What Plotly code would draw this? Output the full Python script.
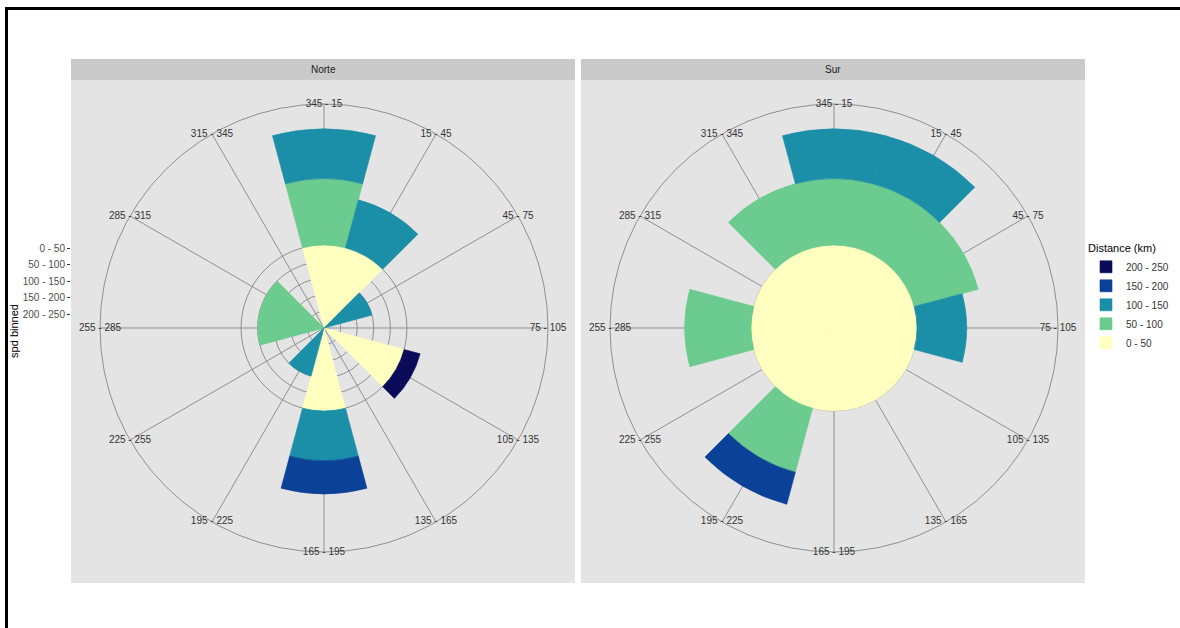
import plotly.graph_objects as go

# ---------------- data ----------------
directions = ["345 - 15", "15 - 45", "45 - 75", "75 - 105", "105 - 135", "135 - 165",
              "165 - 195", "195 - 225", "225 - 255", "255 - 285", "285 - 315", "315 - 345"]
distance_bins = ["0 - 50", "50 - 100", "100 - 150", "150 - 200", "200 - 250"]
facets = ["Norte", "Sur"]

norte_0_50 = [5, 5, 0, 0, 5, 0, 5, 0, 0, 0, 0, 0]
norte_50_100 = [4, 0, 0, 0, 0, 0, 0, 0, 0, 4, 4, 0]
norte_100_150 = [3, 3, 3, 0, 0, 0, 3, 3, 0, 0, 0, 0]
norte_150_200 = [0, 0, 0, 0, 0, 0, 2, 0, 0, 0, 0, 0]
norte_200_250 = [0, 0, 0, 0, 1, 0, 0, 0, 0, 0, 0, 0]

sur_0_50 = [5, 5, 5, 5, 5, 5, 5, 5, 5, 5, 5, 5]
sur_50_100 = [4, 4, 4, 0, 0, 0, 0, 4, 0, 4, 0, 4]
sur_100_150 = [3, 3, 0, 3, 0, 0, 0, 0, 0, 0, 0, 0]
sur_150_200 = [0, 0, 0, 0, 0, 0, 0, 2, 0, 0, 0, 0]
sur_200_250 = [0, 0, 0, 0, 0, 0, 0, 0, 0, 0, 0, 0]

# y-axis ("spd binned") levels and their labels
spd_levels = [5, 4, 3, 2, 1]
spd_labels = ["0 - 50", "50 - 100", "100 - 150", "150 - 200", "200 - 250"]

# ---------------- style ----------------
colors = ["#FFFFBF", "#6CCB8E", "#1B8FA7", "#0B4197", "#0A0C5A"]
R_MAX = 13.5
W, H = 1180, 628
FONT = "Liberation Sans, Arial, sans-serif"
GRID = "#8f8f8f"
PANEL = "#e4e4e4"
STRIP = "#cacaca"

norte = [norte_0_50, norte_50_100, norte_100_150, norte_150_200, norte_200_250]
sur = [sur_0_50, sur_50_100, sur_100_150, sur_150_200, sur_200_250]

fig = go.Figure()

for subplot, series, show in (("polar", norte, True), ("polar2", sur, False)):
    for name, vals, col in zip(distance_bins, series, colors):
        fig.add_trace(go.Barpolar(
            r=vals, theta=directions, name=name, subplot=subplot,
            marker=dict(color=col, line=dict(width=0.6, color=col)),
            showlegend=show, legendgroup=name, hoverinfo="skip"))
    # direction labels sitting on the outer circle (as in ggplot coord_polar)
    fig.add_trace(go.Scatterpolar(
        r=[R_MAX] * len(directions), theta=directions, text=directions,
        mode="text", subplot=subplot, showlegend=False, hoverinfo="skip",
        cliponaxis=False,
        textfont=dict(family=FONT, size=10, color="#333333")))

# invisible cartesian subplot used only for the left "spd binned" axis
fig.add_trace(go.Scatter(x=[], y=[], showlegend=False, hoverinfo="skip"))


def px_x(p):
    return p / W


def px_y(p):
    return 1 - p / H


polar_common = dict(
    bgcolor="rgba(0,0,0,0)",
    barmode="stack",
    bargap=0,
    radialaxis=dict(range=[0, R_MAX], tickvals=spd_levels, showticklabels=False,
                    ticks="", showline=False, gridcolor=GRID, gridwidth=1,
                    layer="below traces"),
    angularaxis=dict(type="category", categoryarray=directions, rotation=90,
                     direction="clockwise", showticklabels=False, ticks="",
                     showline=True, linecolor=GRID, linewidth=1,
                     gridcolor=GRID, gridwidth=1, layer="below traces"),
)

y_dom = [px_y(552), px_y(104)]
y_dom_axis = [px_y(555), px_y(107)]

shapes = []
annotations = []
panels = [(71, 575, "Norte"), (581, 1085, "Sur")]
for x0, x1, label in panels:
    shapes.append(dict(type="rect", xref="paper", yref="paper", layer="below",
                       x0=px_x(x0), x1=px_x(x1), y0=px_y(583), y1=px_y(80),
                       fillcolor=PANEL, line=dict(width=0)))
    shapes.append(dict(type="rect", xref="paper", yref="paper", layer="below",
                       x0=px_x(x0), x1=px_x(x1), y0=px_y(80), y1=px_y(59),
                       fillcolor=STRIP, line=dict(width=0)))
    annotations.append(dict(text=label, xref="paper", yref="paper",
                            x=px_x((x0 + x1) / 2), y=px_y(70), showarrow=False,
                            xanchor="center", yanchor="middle",
                            font=dict(family=FONT, size=10, color="#1a1a1a")))

# outer black frame (top and left edges, as in the screenshot)
shapes.append(dict(type="line", xref="paper", yref="paper", x0=px_x(5), x1=1,
                   y0=px_y(8.5), y1=px_y(8.5), line=dict(color="black", width=3)))
shapes.append(dict(type="line", xref="paper", yref="paper", x0=px_x(6.5), x1=px_x(6.5),
                   y0=0, y1=px_y(7), line=dict(color="black", width=3)))

fig.update_layout(
    width=W, height=H,
    margin=dict(l=0, r=0, t=0, b=0),
    paper_bgcolor="white",
    plot_bgcolor="rgba(0,0,0,0)",
    font=dict(family=FONT, size=10, color="#333333"),
    polar=dict(domain=dict(x=[px_x(100), px_x(548)], y=y_dom), **polar_common),
    polar2=dict(domain=dict(x=[px_x(610), px_x(1058)], y=y_dom), **polar_common),
    xaxis=dict(domain=[px_x(71), px_x(575)], visible=False, range=[-1, 1]),
    yaxis=dict(domain=y_dom_axis, range=[-R_MAX, R_MAX], tickvals=spd_levels,
               ticktext=spd_labels, ticks="outside", ticklen=3, tickcolor="#333333",
               showgrid=False, zeroline=False, showline=False, automargin=False,
               tickfont=dict(family=FONT, size=10, color="#4d4d4d"),
               title=dict(text="spd binned", standoff=1,
                          font=dict(family=FONT, size=11, color="black"))),
    legend=dict(x=px_x(1086), y=px_y(238), xanchor="left", yanchor="top",
                traceorder="reversed", bgcolor="rgba(0,0,0,0)",
                font=dict(family=FONT, size=10, color="#333333"),
                title=dict(text="Distance (km)",
                           font=dict(family=FONT, size=11, color="black")),
                itemwidth=30, tracegroupgap=0),
    shapes=shapes,
    annotations=annotations,
)

fig.write_html("out.html",
               config={"displayModeBar": False},
               post_script="document.body.style.margin='0px';"
                           "document.body.style.padding='0px';")
